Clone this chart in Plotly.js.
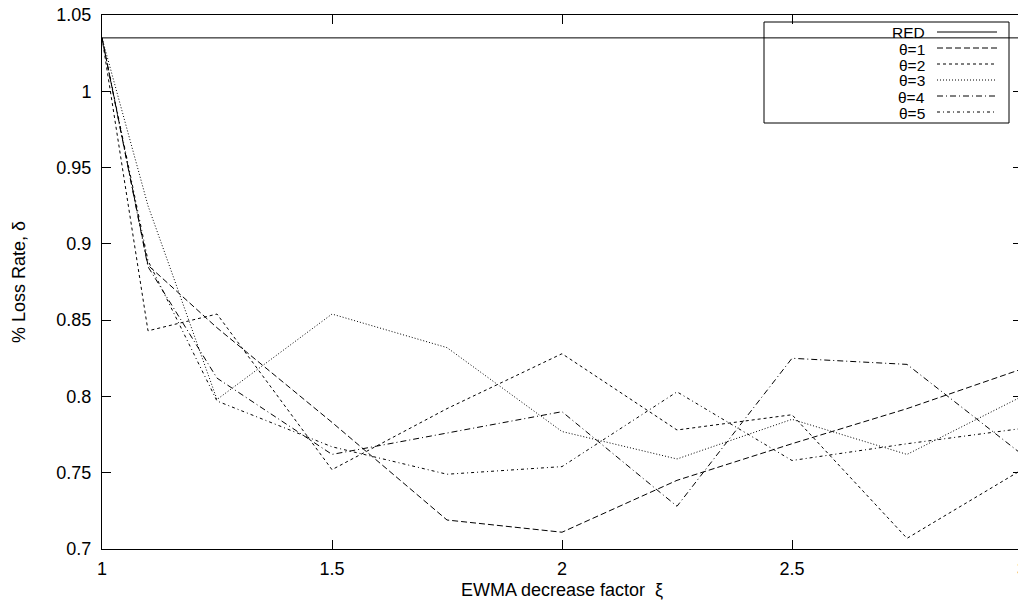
<!DOCTYPE html>
<html>
<head>
<meta charset="utf-8">
<script src="https://cdn.plot.ly/plotly-3.0.1.min.js"></script>
<style>
html, body { margin: 0; padding: 0; overflow: hidden; background: #fff; }
#chart { width: 1030px; height: 600px; }
</style>
</head>
<body>
<div id="chart"></div>
<script>
// Data
const xi = [1, 1.1, 1.25, 1.5, 1.75, 2, 2.25, 2.5, 2.75, 3];
const red = [1.035, 1.035, 1.035, 1.035, 1.035, 1.035, 1.035, 1.035, 1.035, 1.035];
const theta1 = [1.035, 0.886, 0.845, 0.783, 0.719, 0.711, 0.745, 0.769, 0.792, 0.818];
const theta2 = [1.035, 0.843, 0.854, 0.752, 0.792, 0.828, 0.778, 0.788, 0.707, 0.752];
const theta3 = [1.035, 0.925, 0.798, 0.854, 0.832, 0.777, 0.759, 0.785, 0.762, 0.800];
const theta4 = [1.035, 0.885, 0.812, 0.762, 0.776, 0.790, 0.728, 0.825, 0.821, 0.762];
const theta5 = [1.035, 0.889, 0.797, 0.767, 0.749, 0.754, 0.803, 0.758, 0.769, 0.779];
const seriesNames = ["RED", "θ=1", "θ=2", "θ=3", "θ=4", "θ=5"];
const xTickVals = [1, 1.5, 2, 2.5, 3];
const xTickText = ["1", "1.5", "2", "2.5", "3"];
const yTickVals = [0.7, 0.75, 0.8, 0.85, 0.9, 0.95, 1, 1.05];
const yTickText = ["0.7", "0.75", "0.8", "0.85", "0.9", "0.95", "1", "1.05"];

const seriesData = [red, theta1, theta2, theta3, theta4, theta5];
const dashes = ["solid", "6px,3px", "3px,3px", "1px,2px", "6px,3px,1px,3px", "3px,3px,1px,3px"];

const traces = seriesData.map((ys, i) => ({
  type: "scatter",
  mode: "lines",
  x: xi,
  y: ys,
  name: seriesNames[i],
  line: { color: "#000", width: 1, dash: dashes[i] },
  showlegend: false,
  hoverinfo: "x+y+name"
}));

// Plot area geometry (pixels)
const L = 102, R = 8, T = 15, B = 51, W = 1030, H = 600;
const pw = W - L - R, ph = H - T - B;
const px2x = p => (p - L) / pw;
const py2y = p => (H - B - p) / ph;

const font = { family: "Liberation Sans, Arial, sans-serif", size: 18, color: "#000" };

// gnuplot-style legend: text on the left, line sample on the right
const shapes = [{
  type: "rect", xref: "paper", yref: "paper",
  x0: px2x(764), x1: px2x(1009), y0: py2y(123), y1: py2y(22),
  line: { color: "#000", width: 1 }, fillcolor: "rgba(0,0,0,0)"
}];
const annotations = [];
seriesNames.forEach((n, i) => {
  const yy = 32 + i * 16;
  shapes.push({
    type: "line", xref: "paper", yref: "paper",
    x0: px2x(937), x1: px2x(997), y0: py2y(yy), y1: py2y(yy),
    line: { color: "#000", width: 1, dash: dashes[i] }
  });
  annotations.push({
    xref: "paper", yref: "paper", x: px2x(926), y: py2y(yy + 1),
    xanchor: "right", yanchor: "middle", text: n, showarrow: false,
    borderpad: 0,
    font: { family: font.family, size: 15.5, color: "#000" }
  });
});

const layout = {
  width: W, height: H,
  margin: { l: L, r: R, t: T, b: B, pad: 0 },
  paper_bgcolor: "#fff", plot_bgcolor: "#fff",
  font: font,
  showlegend: false,
  xaxis: {
    range: [1, 3],
    tickvals: xTickVals, ticktext: xTickText,
    ticks: "inside", ticklen: 9, tickcolor: "#000", tickwidth: 1,
    showline: true, linecolor: "#000", linewidth: 1, mirror: "ticks",
    showgrid: false, zeroline: false,
    tickfont: font, ticklabelstandoff: 3,
    title: { text: "EWMA decrease factor  ξ", font: font, standoff: 5 }
  },
  yaxis: {
    range: [0.7, 1.05],
    tickvals: yTickVals, ticktext: yTickText,
    ticks: "inside", ticklen: 9, tickcolor: "#000", tickwidth: 1,
    showline: true, linecolor: "#000", linewidth: 1, mirror: "ticks",
    showgrid: false, zeroline: false,
    tickfont: font, ticklabelstandoff: 6,
    title: { text: "% Loss Rate, δ", font: font, standoff: 26 }
  },
  shapes: shapes,
  annotations: annotations
};

Plotly.newPlot("chart", traces, layout, { displayModeBar: false, staticPlot: true });
</script>
</body>
</html>
